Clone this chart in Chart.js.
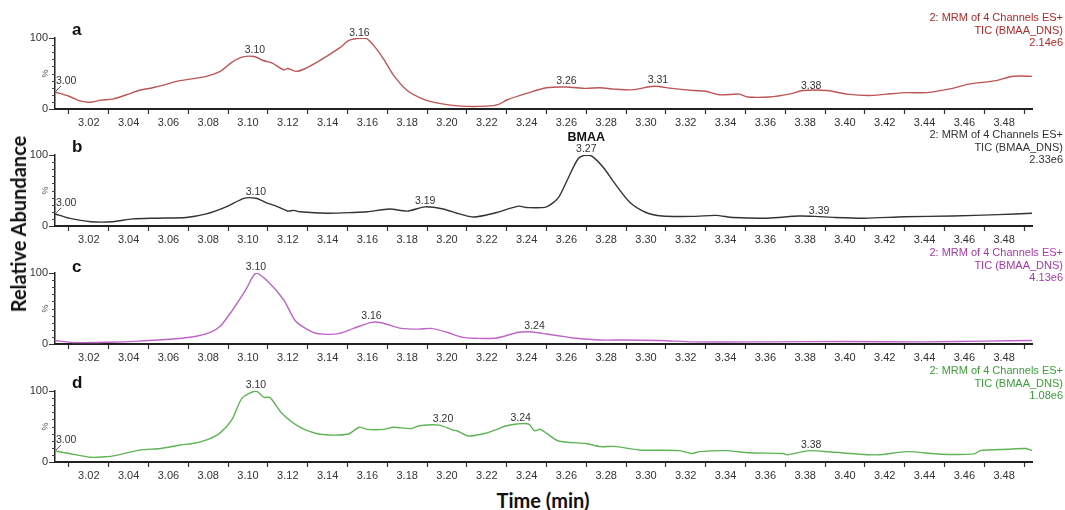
<!DOCTYPE html>
<html>
<head>
<meta charset="utf-8">
<script src="https://cdn.jsdelivr.net/npm/chart.js@4"></script>
<style>
body { margin: 0; background: #fff; width: 1065px; height: 510px; position: relative; overflow: hidden; }
.painel { position: absolute; left: 0; }
#titulo-y { position: absolute; left: 18px; top: 224px; transform: translate(-50%, -50%) rotate(-90deg); font: bold 20px Lato, "Open Sans", sans-serif; color: #111; white-space: nowrap; }
#titulo-x { position: absolute; left: 543px; top: 500px; transform: translate(-50%, -50%); font: bold 20px Lato, "Open Sans", sans-serif; color: #111; white-space: nowrap; }
</style>
</head>
<body>
<canvas id="grafico-a" class="painel" width="1065" height="135" style="top:0px"></canvas>
<canvas id="grafico-b" class="painel" width="1065" height="135" style="top:117px"></canvas>
<canvas id="grafico-c" class="painel" width="1065" height="135" style="top:235px"></canvas>
<canvas id="grafico-d" class="painel" width="1065" height="135" style="top:353px"></canvas>
<div id="titulo-y">Relative Abundance</div>
<div id="titulo-x">Time (min)</div>
<script>
// eixo x: rotulos nos centesimos pares, tracos nos impares
var rotulosX = ['3.02', '3.04', '3.06', '3.08', '3.10', '3.12', '3.14', '3.16', '3.18', '3.20', '3.22', '3.24',
    '3.26', '3.28', '3.30', '3.32', '3.34', '3.36', '3.38', '3.40', '3.42', '3.44', '3.46', '3.48'];
var marcasX = [3.01, 3.03, 3.05, 3.07, 3.09, 3.11, 3.13, 3.15, 3.17, 3.19, 3.21, 3.23, 3.25,
    3.27, 3.29, 3.31, 3.33, 3.35, 3.37, 3.39, 3.41, 3.43, 3.45, 3.47, 3.49];

var temposA = [3.003, 3.010, 3.016, 3.021, 3.026, 3.032, 3.040, 3.045, 3.052, 3.058, 3.064, 3.071, 3.079, 3.086,
    3.092, 3.097, 3.103, 3.108, 3.112, 3.118, 3.120, 3.124, 3.128, 3.136, 3.146, 3.151, 3.159, 3.163, 3.168,
    3.173, 3.180, 3.188, 3.196, 3.207, 3.220, 3.226, 3.230, 3.240, 3.250, 3.260, 3.270, 3.277, 3.284, 3.293,
    3.304, 3.313, 3.324, 3.330, 3.337, 3.347, 3.351, 3.362, 3.372, 3.379, 3.391, 3.401, 3.412, 3.421, 3.431,
    3.441, 3.454, 3.462, 3.476, 3.483, 3.488, 3.494];
var abundA = [24, 18, 11, 9.5, 12.5, 14, 21, 26, 30, 34, 39, 42, 46, 53,
    66, 73, 74, 68, 65, 55, 57, 53, 56, 68, 86, 97, 100, 90, 71,
    48, 26, 14, 8, 4, 4, 6.6, 12.7, 22, 30, 31, 29, 30, 28, 27,
    32, 29, 26, 25, 20, 21, 17, 17, 21, 26, 26, 21, 19, 21, 23,
    23, 29, 35, 40, 45.5, 46.5, 46];

var temposB = [3.003, 3.010, 3.021, 3.032, 3.042, 3.054, 3.069, 3.079, 3.089, 3.098, 3.104, 3.109, 3.115, 3.120,
    3.123, 3.126, 3.140, 3.153, 3.160, 3.171, 3.180, 3.189, 3.198, 3.205, 3.211, 3.215, 3.225, 3.236, 3.240,
    3.250, 3.256, 3.261, 3.266, 3.270, 3.273, 3.279, 3.284, 3.292, 3.300, 3.308, 3.324, 3.335, 3.344, 3.361,
    3.377, 3.385, 3.395, 3.410, 3.430, 3.454, 3.477, 3.494];
var abundB = [17, 11, 6, 6, 10, 11, 12, 17, 27, 39, 39, 33, 27, 21,
    22, 20, 18, 19, 20, 24, 21, 27, 24, 18, 13.5, 13, 19, 28, 26,
    27, 40, 68, 95, 100, 98, 81, 61, 33, 19, 14, 13.5, 15, 12, 11,
    14, 13.5, 12, 11, 13, 14, 16, 18];

var temposC = [3.003, 3.012, 3.030, 3.045, 3.062, 3.074, 3.081, 3.086, 3.092, 3.099, 3.104, 3.110, 3.118, 3.124,
    3.133, 3.140, 3.146, 3.153, 3.162, 3.167, 3.177, 3.186, 3.192, 3.200, 3.208, 3.215, 3.225, 3.236, 3.243,
    3.250, 3.260, 3.265, 3.277, 3.289, 3.307, 3.324, 3.360, 3.400, 3.440, 3.470, 3.494];
var abundC = [5, 2, 2.5, 4, 7, 11, 16.5, 25, 47, 77, 100, 88, 62, 32,
    16, 13.6, 15, 22, 30.5, 30, 22, 21, 22, 16.5, 9.4, 8, 8.5, 16.5, 17,
    14, 10, 8, 5.6, 5.6, 5, 3, 3, 3.5, 3, 4, 5];

var temposD = [3.003, 3.010, 3.021, 3.029, 3.033, 3.046, 3.056, 3.066, 3.072, 3.080, 3.086, 3.092, 3.097, 3.104,
    3.108, 3.111, 3.117, 3.126, 3.136, 3.150, 3.156, 3.160, 3.168, 3.173, 3.182, 3.186, 3.196, 3.203, 3.205,
    3.211, 3.220, 3.225, 3.230, 3.235, 3.241, 3.244, 3.247, 3.256, 3.270, 3.277, 3.284, 3.297, 3.317, 3.323,
    3.327, 3.340, 3.352, 3.369, 3.371, 3.382, 3.393, 3.416, 3.431, 3.448, 3.465, 3.468, 3.482, 3.491, 3.494];
var abundD = [15.5, 12, 6.6, 7.5, 9, 17, 19, 24, 26, 32, 41, 60, 90, 100,
    91, 91, 68.5, 49, 39, 39, 49, 46, 46, 49, 47, 51, 52, 45, 44,
    36.6, 41, 46, 51, 53.5, 53.5, 44, 46, 29.6, 26, 21.6, 22, 17, 16, 12,
    14.6, 16, 13, 12, 10, 16, 14, 10, 14.6, 11, 11.5, 16, 18, 19, 16];

// picos marcados: [tempo de retencao, altura %]
var picosA = [[3.003, 24], [3.1035, 74], [3.156, 99], [3.260, 31], [3.306, 32], [3.383, 24]];
var picosB = [[3.003, 17], [3.104, 39], [3.189, 27], [3.270, 100], [3.387, 13]];
var picosC = [[3.104, 100], [3.162, 30.5], [3.244, 17]];
var picosD = [[3.003, 15.5], [3.104, 100], [3.198, 52], [3.237, 53.5], [3.383, 16]];

var intensidades = ['2.14e6', '2.33e6', '4.13e6', '1.08e6'];
var fonte = '"Liberation Sans", Arial, sans-serif';

var desenhoExtra = {
    id: 'cromatograma',
    afterDraw: function (chart, args, op) {
        var ctx = chart.ctx;
        var area = chart.chartArea;
        var sx = chart.scales.x;
        var sy = chart.scales.y;
        ctx.save();

        // tracos menores do eixo y
        ctx.strokeStyle = '#444';
        ctx.lineWidth = 1;
        for (var v = 10; v < 100; v += 10) {
            var py = Math.round(sy.getPixelForValue(v)) + 0.5;
            ctx.beginPath();
            ctx.moveTo(area.left - 3, py);
            ctx.lineTo(area.left, py);
            ctx.stroke();
        }

        // simbolo de %
        ctx.fillStyle = '#555';
        ctx.font = '9px ' + fonte;
        ctx.textAlign = 'center';
        ctx.textBaseline = 'middle';
        ctx.translate(46, (area.top + area.bottom) / 2);
        ctx.rotate(-Math.PI / 2);
        ctx.fillText('%', 0, 0);
        ctx.setTransform(1, 0, 0, 1, 0, 0);

        // letra do painel
        ctx.fillStyle = '#111';
        ctx.font = 'bold 17px ' + fonte;
        ctx.textAlign = 'left';
        ctx.fillText(op.letra, 72, area.top + op.letraY);

        // cabecalho do canal
        ctx.fillStyle = op.corTexto;
        ctx.font = '11px ' + fonte;
        ctx.textAlign = 'right';
        ctx.fillText('2: MRM of 4 Channels ES+', 1063, area.top - 20);
        ctx.fillText('TIC (BMAA_DNS)', 1063, area.top - 7);
        ctx.fillText(op.intensidade, 1063, area.top + 5);

        // rotulos dos picos
        ctx.fillStyle = '#333';
        ctx.strokeStyle = '#555';
        ctx.font = '10.5px ' + fonte;
        ctx.textBaseline = 'alphabetic';
        op.picos.forEach(function (p) {
            var px = sx.getPixelForValue(p[0]);
            var py = sy.getPixelForValue(p[1]);
            var texto = p[0].toFixed(2);
            if (p[0] < 3.005) {
                ctx.beginPath();
                ctx.moveTo(area.left + 1, py - 1);
                ctx.lineTo(area.left + 6, py - 6);
                ctx.stroke();
                ctx.textAlign = 'left';
                ctx.fillText(texto, area.left + 1, py - 8);
            } else {
                ctx.textAlign = 'center';
                ctx.fillText(texto, px, py - 3);
            }
            if (op.destaque && texto === op.destaque.pico) {
                ctx.save();
                ctx.fillStyle = '#111';
                ctx.font = 'bold 12.5px ' + fonte;
                ctx.fillText(op.destaque.nome, px, py - 14);
                ctx.restore();
            }
        });
        ctx.restore();
    }
};

function criarGrafico(id, tempos, valores, cor, corTexto, letra, letraY, intensidade, picos, destaque) {
    var pontos = tempos.map(function (t, i) { return { x: t, y: valores[i] }; });
    return new Chart(document.getElementById(id).getContext('2d'), {
        type: 'line',
        data: {
            datasets: [{
                data: pontos,
                borderColor: cor,
                borderWidth: 1.4,
                pointRadius: 0,
                tension: 0.25,
                fill: false
            }]
        },
        options: {
            responsive: false,
            animation: false,
            layout: { padding: { top: 38, right: 33, left: 0, bottom: 0 } },
            plugins: {
                legend: { display: false },
                tooltip: { enabled: false },
                cromatograma: {
                    letra: letra, letraY: letraY, corTexto: corTexto,
                    intensidade: intensidade, picos: picos, destaque: destaque
                }
            },
            scales: {
                x: {
                    type: 'linear',
                    min: 3.003,
                    max: 3.494,
                    afterFit: function (s) { s.height = 26; },
                    afterBuildTicks: function (s) {
                        var todos = marcasX.concat(rotulosX.map(Number)).sort(function (a, b) { return a - b; });
                        s.ticks = todos.map(function (v) { return { value: v }; });
                    },
                    border: { color: '#222', width: 2 },
                    grid: {
                        drawOnChartArea: false,
                        tickLength: 5,
                        tickWidth: 1.2,
                        tickColor: function (c) {
                            if (!c.tick) return '#333';
                            return rotulosX.indexOf(c.tick.value.toFixed(2)) >= 0 ? 'rgba(0,0,0,0)' : '#333';
                        }
                    },
                    ticks: {
                        autoSkip: false,
                        maxRotation: 0,
                        padding: 2,
                        color: '#333',
                        font: { family: fonte, size: 11 },
                        callback: function (v) {
                            var r = Number(v).toFixed(2);
                            return rotulosX.indexOf(r) >= 0 ? r : '';
                        }
                    }
                },
                y: {
                    min: 0,
                    max: 100,
                    afterFit: function (s) { s.width = 55; },
                    afterBuildTicks: function (s) { s.ticks = [{ value: 0 }, { value: 100 }]; },
                    border: { color: '#222', width: 1.5 },
                    grid: { drawOnChartArea: false, tickLength: 6, tickColor: '#333' },
                    ticks: { padding: 1, color: '#333', font: { family: fonte, size: 11 } }
                }
            }
        },
        plugins: [desenhoExtra]
    });
}

var graficoA = criarGrafico('grafico-a', temposA, abundA, 'rgb(190,85,85)', 'rgb(180,40,40)', 'a', -8, intensidades[0], picosA, null);
var graficoB = criarGrafico('grafico-b', temposB, abundB, '#333', '#333', 'b', -8, intensidades[1], picosB, { pico: '3.27', nome: 'BMAA' });
var graficoC = criarGrafico('grafico-c', temposC, abundC, 'rgb(190,100,200)', 'rgb(170,55,175)', 'c', -6, intensidades[2], picosC, null);
var graficoD = criarGrafico('grafico-d', temposD, abundD, 'rgb(95,180,85)', 'rgb(60,160,55)', 'd', -8, intensidades[3], picosD, null);
</script>
</body>
</html>
